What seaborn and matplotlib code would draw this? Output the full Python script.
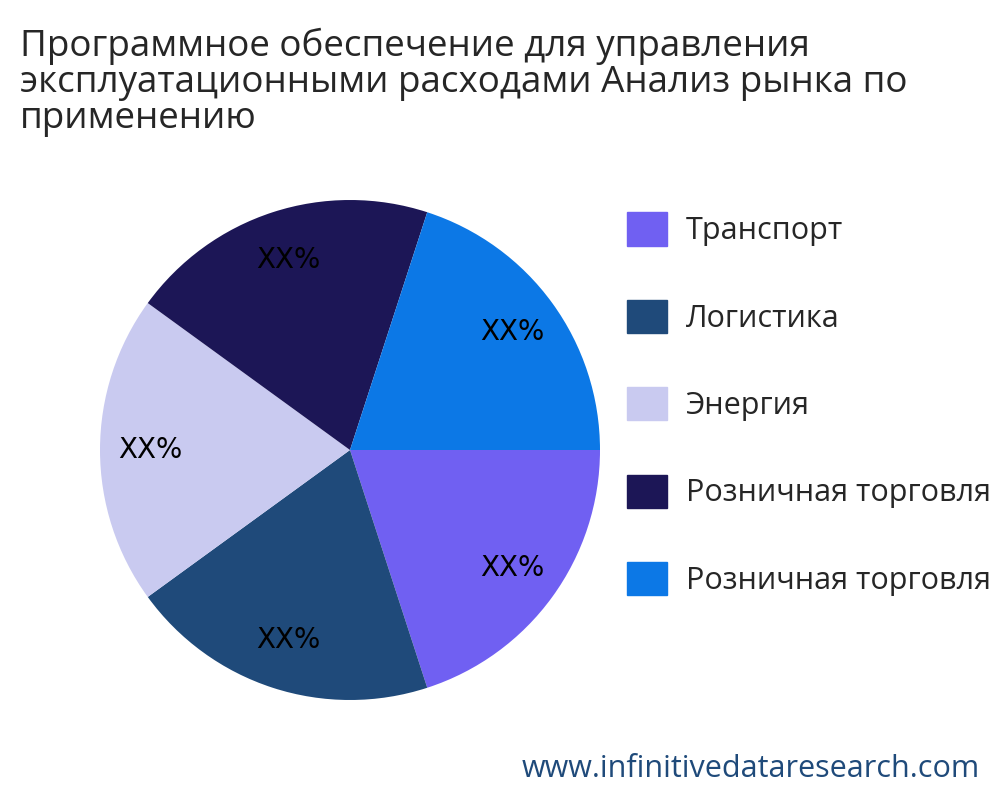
import matplotlib
matplotlib.use("Agg")
import matplotlib.pyplot as plt
import seaborn as sns
from matplotlib.patches import Patch

sns.set_theme(style="white")
plt.rcParams['font.family'] = ['Open Sans', 'DejaVu Sans']

categories = ["Транспорт", "Логистика", "Энергия", "Розничная торговля", "Розничная торговля"]
values = [20, 20, 20, 20, 20]
labels = ["XX%"] * 5
colors = ["#7060F2", "#1F4A7A", "#C9CAF0", "#1C1656", "#0C78E6"]

fig = plt.figure(figsize=(10, 8), dpi=100)
ax = fig.add_axes([0.1, 0.125, 0.5, 0.625])
ax.pie(values, colors=colors, startangle=0, counterclock=False,
       labels=labels, labeldistance=0.8, wedgeprops=dict(linewidth=0),
       textprops=dict(fontsize=20, family='DejaVu Sans', color='black', ha='center', va='center'))
ax.set_xlim(-1, 1)
ax.set_ylim(-1, 1)
ax.set_aspect('equal')

fig.text(0.02, 0.965, "Программное обеспечение для управления\nэксплуатационными расходами Анализ рынка по\nприменению",
         fontsize=26.5, va='top', ha='left', linespacing=1.0)

handles = [Patch(color=c) for c in colors]
fig.legend(handles, categories, loc='upper left', bbox_to_anchor=(0.603, 0.765),
           frameon=False, fontsize=22, handlelength=1.3, handleheight=1.3,
           labelspacing=1.75, handletextpad=0.6, borderpad=0.3)

fig.text(0.98, 0.02, "www.infinitivedataresearch.com", fontsize=22, color='#1F4A7A',
         ha='right', va='bottom')

fig.savefig("out.png", dpi=100)
